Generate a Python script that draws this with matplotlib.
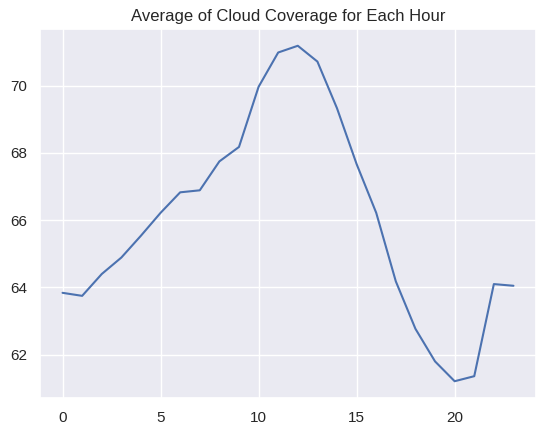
import matplotlib
matplotlib.use("Agg")
import matplotlib.pyplot as plt
import seaborn as sns

hours = list(range(24))
cloud_cover = [63.84, 63.75, 64.40, 64.89, 65.54, 66.22, 66.83, 66.89, 67.75, 68.18,
               69.97, 70.99, 71.19, 70.72, 69.33, 67.67, 66.22, 64.18, 62.77, 61.80,
               61.21, 61.36, 64.10, 64.05]

sns.set_theme(style="darkgrid")
plt.rcParams['font.family'] = ['Liberation Sans', 'DejaVu Sans']

fig = plt.figure(figsize=(5.46, 4.37), dpi=100)
ax = fig.add_axes([40 / 546, 1 - 398 / 437, 496 / 546, 369 / 437])
ax.plot(hours, cloud_cover)
ax.set_title("Average of Cloud Coverage for Each Hour")

fig.savefig("out.png", dpi=100)
